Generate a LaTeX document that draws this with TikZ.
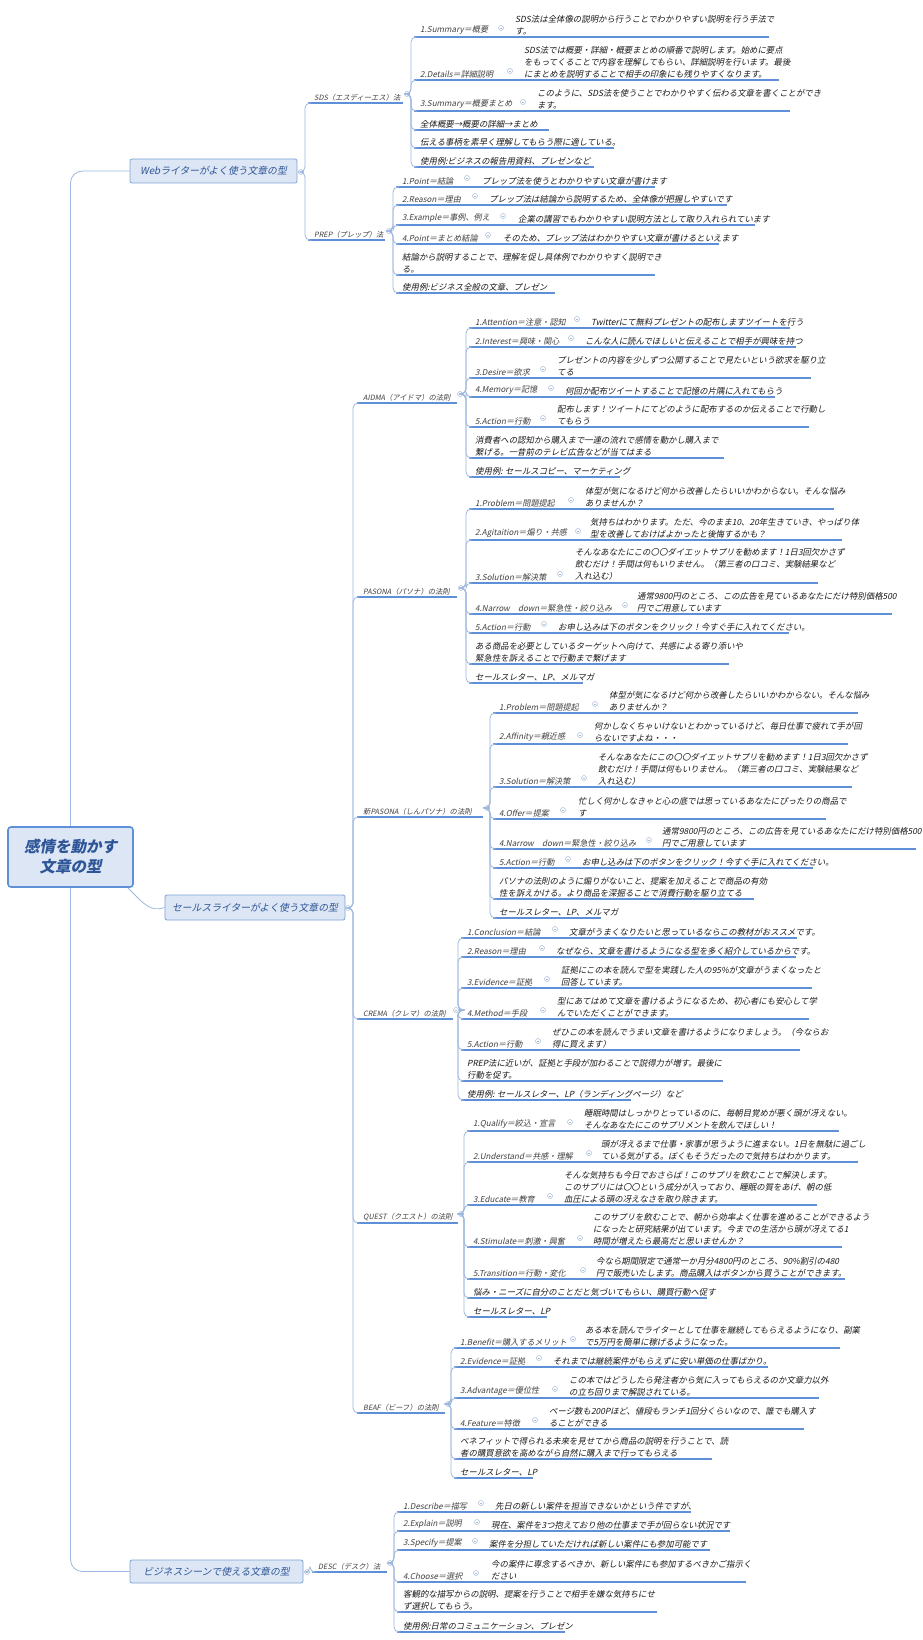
\documentclass[tikz,border=0pt]{standalone}
\usepackage{fontspec}
\setmainfont{Noto Sans CJK JP}[FakeSlant=0.2]
\begin{document}
\definecolor{ul}{HTML}{5F8FD6}
\definecolor{cn}{HTML}{9DB8E0}
\definecolor{bxf}{HTML}{DCE6F4}
\definecolor{bxd}{HTML}{7FA3D6}
\definecolor{rtt}{HTML}{2E5597}
\definecolor{tg}{HTML}{A8BCD8}
\tikzset{
 uline/.style={draw=ul,line width=1.1pt},
 conn/.style={draw=cn,line width=0.8pt,rounded corners=5pt},
 lbl/.style={anchor=south west,inner sep=0pt,text=black!75,font=\fontsize{8.1}{12}\selectfont},
 dsc/.style={anchor=south west,inner sep=0pt,align=left,text=black!90,font=\fontsize{8.4}{12}\selectfont},
 tog/.style={circle,draw=tg,line width=0.5pt,minimum size=5pt,inner sep=0pt},
 togc/.style={draw=tg,line width=0.5pt},
 br/.style={draw=bxd,fill=bxf,rounded corners=2pt,line width=0.8pt,text=rtt,font=\fontsize{9.8}{12}\selectfont,inner sep=0pt},
}
\newcommand\lvtwo[1]{{\fontsize{7.3}{12}\selectfont #1}}
\newcommand\mrow[9]{%
 \coordinate (#1-s) at (#3,#4);
 \draw[uline] (#1-s) -- (#9,#4);
 \node[lbl] (#1) at ({#3+6},{#4-2}) {#5};
 \node[tog] (#1-c) at (#6,{#4-9}) {};
 \draw[togc] ([xshift=-1.4pt]#1-c.center) -- ([xshift=1.4pt]#1-c.center);
 \node[dsc] (#1-d) at (#7,{#4-2}) {#8};
 \draw[conn] (#2-c.east) -- (#2-t) |- (#1-s);
}
\newcommand\mplain[6]{%
 \coordinate (#1-s) at (#3,#4);
 \draw[uline] (#1-s) -- (#6,#4);
 \node[dsc] (#1) at ({#3+6},{#4-2}) {#5};
 \draw[conn] (#2-c.east) -- (#2-t) |- (#1-s);
}
\begin{tikzpicture}[x=1pt,y=-1pt]
\useasboundingbox (0,0) rectangle (923,1640);
\fill[white] (0,0) rectangle (923,1640);
% root
\node[draw=ul,fill=bxf,line width=1.6pt,rounded corners=3pt,minimum width=125pt,minimum height=60pt,align=center,text=rtt,font=\fontsize{15.5}{20}\selectfont\bfseries] (root) at (70.5,857) {感情を動かす\\文章の型};
% branches
\node[br,minimum width=167pt,minimum height=24pt] (web) at (213.5,171) {Webライターがよく使う文章の型};
\node[br,minimum width=180pt,minimum height=25pt] (sales) at (255,907.5) {セールスライターがよく使う文章の型};
\node[br,minimum width=173pt,minimum height=23pt] (biz) at (216.5,1571.5) {ビジネスシーンで使える文章の型};
\draw[conn,rounded corners=12pt] (root.north) |- (web.west);
\draw[conn,rounded corners=12pt] (root.south) |- (biz.west);
\draw[conn] (root.south east) ++(-6pt,0) .. controls (145,905) and (150,912) .. (sales.west);
\foreach \n/\x/\y in {web/301/172,sales/348/908,biz/307/1572}{
 \node[tog] (\n-c) at (\x,\y) {};
 \draw[togc] ([xshift=-1.4pt]\n-c.center) -- ([xshift=1.4pt]\n-c.center);}
\coordinate (web-t) at (305,172);
\coordinate (sales-t) at (353,908);
\coordinate (biz-t) at (310,1572);

% ===== SDS
\mrow{sds}{web}{308}{103}{\lvtwo{SDS（エスディーエス）法}}{407}{0}{}{403}
\coordinate (sds-t) at (411,94);
\mrow{sa}{sds}{414}{37}{1.Summary＝概要}{501}{515}{SDS法は全体像の説明から行うことでわかりやすい説明を行う手法で\\す。}{769}
\mrow{sb}{sds}{414}{80}{2.Details＝詳細説明}{510}{524}{SDS法では概要・詳細・概要まとめの順番で説明します。始めに要点\\をもってくることで内容を理解してもらい、詳細説明を行います。最後\\にまとめを説明することで相手の印象にも残りやすくなります。}{779}
\mrow{sc}{sds}{414}{111}{3.Summary＝概要まとめ}{523}{537}{このように、SDS法を使うことでわかりやすく伝わる文章を書くことができ\\ます。}{790}
\mplain{sd}{sds}{414}{130}{全体概要→概要の詳細→まとめ}{549}
\mplain{se}{sds}{414}{148}{伝える事柄を素早く理解してもらう際に適している。}{614}
\mplain{sf}{sds}{414}{167}{使用例:ビジネスの報告用資料、プレゼンなど}{594}
% ===== PREP
\mrow{prep}{web}{308}{240}{\lvtwo{PREP（プレップ）法}}{389}{0}{}{385}
\coordinate (prep-t) at (393,231);
\mrow{pa}{prep}{396}{187}{1.Point＝結論}{467}{482}{プレップ法を使うとわかりやすい文章が書けます}{655}
\mrow{pb}{prep}{396}{205}{2.Reason＝理由}{475}{489}{プレップ法は結論から説明するため、全体像が把握しやすいです}{727}
\mrow{pc}{prep}{396}{225}{3.Example＝事例、例え}{503}{518}{企業の講習でもわかりやすい説明方法として取り入れられています}{755}
\mrow{pd}{prep}{396}{244}{4.Point＝まとめ結論}{488}{503}{そのため、プレップ法はわかりやすい文章が書けるといえます}{719}
\mplain{pe}{prep}{396}{275}{結論から説明することで、理解を促し具体例でわかりやすく説明でき\\る。}{655}
\mplain{pf}{prep}{396}{293}{使用例:ビジネス全般の文章、プレゼン}{555}

% ===== AIDMA
\mrow{aid}{sales}{357}{403}{\lvtwo{AIDMA（アイドマ）の法則}}{460}{0}{}{457}
\coordinate (aid-t) at (466,394);
\mrow{aa}{aid}{469}{328}{1.Attention＝注意・認知}{577}{591}{Twitterにて無料プレゼントの配布しますツイートを行う}{790}
\mrow{ab}{aid}{469}{347}{2.Interest＝興味・関心}{571}{585}{こんな人に読んでほしいと伝えることで相手が興味を持つ}{796}
\mrow{ac}{aid}{469}{378}{3.Desire＝欲求}{543}{557}{プレゼントの内容を少しずつ公開することで見たいという欲求を駆り立\\てる}{811}
\mrow{ad}{aid}{469}{397}{4.Memory＝記憶}{551}{565}{何回か配布ツイートすることで記憶の片隅に入れてもらう}{775}
\mrow{ae}{aid}{469}{427}{5.Action＝行動}{543}{557}{配布します！ツイートにてどのように配布するのか伝えることで行動し\\てもらう}{809}
\mplain{af}{aid}{469}{458}{消費者への認知から購入まで一連の流れで感情を動かし購入まで\\繋げる。一昔前のテレビ広告などが当てはまる}{724}
\mplain{ag}{aid}{469}{477}{使用例: セールスコピー、マーケティング}{620}
% ===== PASONA
\mrow{pas}{sales}{357}{597}{\lvtwo{PASONA（パソナ）の法則}}{461}{0}{}{457}
\coordinate (pas-t) at (466,588);
\mrow{qa}{pas}{469}{509}{1.Problem＝問題提起}{571}{585}{体型が気になるけど何から改善したらいいかわからない。そんな悩み\\ありませんか？}{834}
\mrow{qb}{pas}{469}{540}{2.Agitaition＝煽り・共感}{578}{590}{気持ちはわかります。ただ、今のまま10、20年生きていき、やっぱり体\\型を改善しておけばよかったと後悔するかも？}{842}
\mrow{qc}{pas}{469}{583}{3.Solution＝解決策}{560}{575}{そんなあなたにこの〇〇ダイエットサプリを勧めます！1日3回欠かさず\\飲むだけ！手間は何もいりません。（第三者の口コミ、実験結果など\\入れ込む）}{818}
\mrow{qd}{pas}{469}{614}{4.Narrow　down＝緊急性・絞り込み}{625}{637}{通常9800円のところ、この広告を見ているあなたにだけ特別価格500\\円でご用意しています}{892}
\mrow{qe}{pas}{469}{633}{5.Action＝行動}{544}{558}{お申し込みは下のボタンをクリック！今すぐ手に入れてください。}{789}
\mplain{qf}{pas}{469}{664}{ある商品を必要としているターゲットへ向けて、共感による寄り添いや\\緊急性を訴えることで行動まで繋げます}{729}
\mplain{qg}{pas}{469}{683}{セールスレター、LP、メルマガ}{583}
% ===== new PASONA
\mrow{npa}{sales}{357}{817}{\lvtwo{新PASONA（しんパソナ）の法則}}{487}{0}{}{483}
\coordinate (npa-t) at (490,808);
\mrow{na}{npa}{493}{713}{1.Problem＝問題提起}{595}{609}{体型が気になるけど何から改善したらいいかわからない。そんな悩み\\ありませんか？}{858}
\mrow{nb}{npa}{493}{744}{2.Affinity＝親近感}{580}{594}{何かしなくちゃいけないとわかっているけど、毎日仕事で疲れて手が回\\らないですよね・・・}{848}
\mrow{nc}{npa}{493}{787}{3.Solution＝解決策}{584}{598}{そんなあなたにこの〇〇ダイエットサプリを勧めます！1日3回欠かさず\\飲むだけ！手間は何もいりません。（第三者の口コミ、実験結果など\\入れ込む）}{852}
\mrow{nd}{npa}{493}{819}{4.Offer＝提案}{563}{578}{忙しく何かしなきゃと心の底では思っているあなたにぴったりの商品で\\す}{826}
\mrow{ne}{npa}{493}{849}{4.Narrow　down＝緊急性・絞り込み}{649}{662}{通常9800円のところ、この広告を見ているあなたにだけ特別価格500\\円でご用意しています}{916}
\mrow{nf}{npa}{493}{868}{5.Action＝行動}{568}{582}{お申し込みは下のボタンをクリック！今すぐ手に入れてください。}{813}
\mplain{ng}{npa}{493}{899}{パソナの法則のように煽りがないこと、提案を加えることで商品の有効\\性を訴えかける。より商品を深掘ることで消費行動を駆り立てる}{754}
\mplain{nh}{npa}{493}{918}{セールスレター、LP、メルマガ}{601}
% ===== CREMA
\mrow{cre}{sales}{357}{1019}{\lvtwo{CREMA（クレマ）の法則}}{456}{0}{}{453}
\coordinate (cre-t) at (458,1010);
\mrow{ca}{cre}{461}{938}{1.Conclusion＝結論}{555}{569}{文章がうまくなりたいと思っているならこの教材がおススメです。}{797}
\mrow{cb}{cre}{461}{957}{2.Reason＝理由}{542}{556}{なぜなら、文章を書けるようになる型を多く紹介しているからです。}{796}
\mrow{cc}{cre}{461}{988}{3.Evidence＝証拠}{547}{561}{証拠にこの本を読んで型を実践した人の95\%が文章がうまくなったと\\回答しています。}{812}
\mrow{cd}{cre}{461}{1019}{4.Method＝手段}{543}{557}{型にあてはめて文章を書けるようになるため、初心者にも安心して学\\んでいただくことができます。}{809}
\mrow{ce}{cre}{461}{1050}{5.Action＝行動}{538}{552}{ぜひこの本を読んでうまい文章を書けるようになりましょう。（今ならお\\得に買えます）}{800}
\mplain{cf}{cre}{461}{1081}{PREP法に近いが、証拠と手段が加わることで説得力が増す。最後に\\行動を促す。}{723}
\mplain{cg}{cre}{461}{1100}{使用例: セールスレター、LP（ランディングページ）など}{631}
% ===== QUEST
\mrow{que}{sales}{357}{1223}{\lvtwo{QUEST（クエスト）の法則}}{461}{0}{}{458}
\coordinate (que-t) at (464,1214);
\mrow{ua}{que}{467}{1131}{1.Qualify＝絞込・宣言}{570}{584}{睡眠時間はしっかりとっているのに、毎朝目覚めが悪く頭が冴えない。\\そんなあなたにこのサプリメントを飲んでほしい！}{839}
\mrow{ub}{que}{467}{1162}{2.Understand＝共感・理解}{589}{601}{頭が冴えるまで仕事・家事が思うように進まない。1日を無駄に過ごし\\ている気がする。ぼくもそうだったので気持ちはわかります。}{858}
\mrow{uc}{que}{467}{1205}{3.Educate＝教育}{550}{564}{そんな気持ちも今日でおさらば！このサプリを飲むことで解決します。\\このサプリには〇〇という成分が入っており、睡眠の質をあげ、朝の低\\血圧による頭の冴えなさを取り除きます。}{817}
\mrow{ud}{que}{467}{1247}{4.Stimulate＝刺激・興奮}{580}{593}{このサプリを飲むことで、朝から効率よく仕事を進めることができるよう\\になったと研究結果が出ています。今までの生活から頭が冴えてる1\\時間が増えたら最高だと思いませんか？}{842}
\mrow{ue}{que}{467}{1279}{5.Transition＝行動・変化}{583}{596}{今なら期間限定で通常一か月分4800円のところ、90\%割引の480\\円で販売いたします。商品購入はボタンから買うことができます。}{845}
\mplain{uf}{que}{467}{1298}{悩み・ニーズに自分のことだと気づいてもらい、購買行動へ促す}{707}
\mplain{ug}{que}{467}{1317}{セールスレター、LP}{547}
% ===== BEAF
\mrow{bea}{sales}{357}{1413}{\lvtwo{BEAF（ビーフ）の法則}}{448}{0}{}{445}
\coordinate (bea-t) at (451,1404);
\mrow{ba}{bea}{454}{1348}{1.Benefit＝購入するメリット}{573}{585}{ある本を読んでライターとして仕事を継続してもらえるようになり、副業\\で5万円を簡単に稼げるようになった。}{840}
\mrow{bb}{bea}{454}{1367}{2.Evidence＝証拠}{539}{553}{それまでは継続案件がもらえずに安い単価の仕事ばかり。}{768}
\mrow{bc}{bea}{454}{1398}{3.Advantage＝優位性}{555}{569}{この本ではどうしたら発注者から気に入ってもらえるのか文章力以外\\の立ち回りまで解説されている。}{819}
\mrow{bd}{bea}{454}{1429}{4.Feature＝特徴}{535}{549}{ページ数も200Pほど、値段もランチ1回分くらいなので、誰でも購入す\\ることができる}{804}
\mplain{be}{bea}{454}{1459}{ベネフィットで得られる未来を見せてから商品の説明を行うことで、読\\者の購買意欲を高めながら自然に購入まで行ってもらえる}{712}
\mplain{bf}{bea}{454}{1478}{セールスレター、LP}{533}
% ===== DESC
\mrow{des}{biz}{312}{1572}{\lvtwo{DESC（デスク）法}}{390}{0}{}{387}
\coordinate (des-t) at (394,1563);
\mrow{da}{des}{397}{1512}{1.Describe＝描写}{481}{495}{先日の新しい案件を担当できないかという件ですが、}{691}
\mrow{db}{des}{397}{1531}{2.Explain＝説明}{477}{491}{現在、案件を3つ抱えており他の仕事まで手が回らない状況です}{730}
\mrow{dc}{des}{397}{1550}{3.Specify＝提案}{475}{489}{案件を分担していただければ新しい案件にも参加可能です}{710}
\mrow{dd}{des}{397}{1582}{4.Choose＝選択}{476}{491}{今の案件に専念するべきか、新しい案件にも参加するべきかご指示く\\ださい}{746}
\mplain{de}{des}{397}{1612}{客観的な描写からの説明、提案を行うことで相手を嫌な気持ちにせ\\ず選択してもらう。}{657}
\mplain{df}{des}{397}{1632}{使用例:日常のコミュニケーション、プレゼン}{565}
\end{tikzpicture}
\end{document}
